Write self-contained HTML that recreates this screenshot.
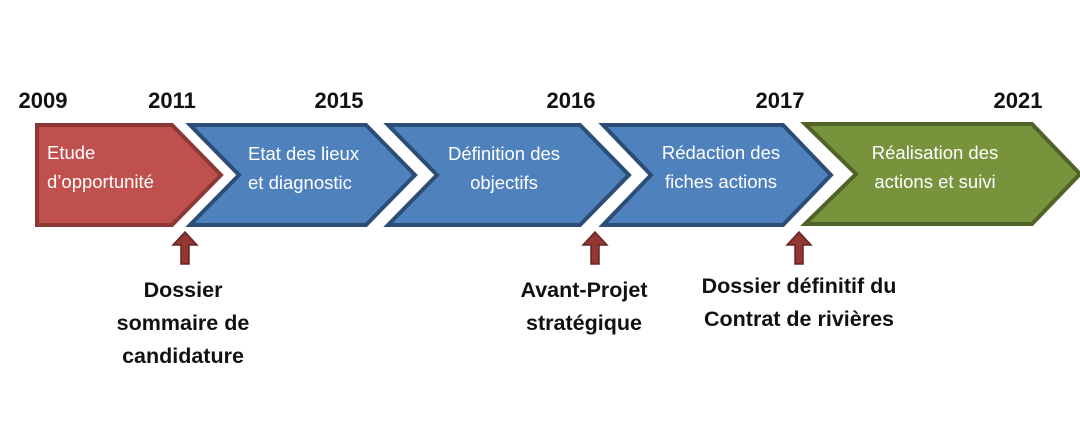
<!DOCTYPE html>
<html><head><meta charset="utf-8"><style>
html,body{margin:0;padding:0;background:#fff;width:1080px;height:421px;overflow:hidden}
svg text{font-family:"Liberation Sans",sans-serif}
</style></head><body>
<svg width="1080" height="421" viewBox="0 0 1080 421" xmlns="http://www.w3.org/2000/svg">
<g font-weight="bold" font-size="22" fill="#111">
<text x="43" y="108" text-anchor="middle">2009</text>
<text x="172" y="108" text-anchor="middle">2011</text>
<text x="339" y="108" text-anchor="middle">2015</text>
<text x="571" y="108" text-anchor="middle">2016</text>
<text x="780" y="108" text-anchor="middle">2017</text>
<text x="1018" y="108" text-anchor="middle">2021</text>
</g>
<g stroke-width="4" stroke-linejoin="miter">
<polygon points="37,125 172,125 221,175 172,225 37,225" fill="#c0504d" stroke="#8c3836"/>
<polygon points="190,125 366,125 415,175 366,225 190,225 239,175" fill="#4f81bd" stroke="#2c4d75"/>
<polygon points="388,125 580,125 629,175 580,225 388,225 437,175" fill="#4f81bd" stroke="#2c4d75"/>
<polygon points="603,125 783,125 831,175 783,225 603,225 651,175" fill="#4f81bd" stroke="#2c4d75"/>
<polygon points="805,124 1032,124 1080,174 1032,224 805,224 856,174" fill="#77933c" stroke="#4f6228"/>
</g>
<g fill="#fff" font-size="18.5">
<text x="47" y="159">Etude</text>
<text x="47" y="188">d’opportunité</text>
<text x="248" y="160">Etat des lieux</text>
<text x="248" y="189">et diagnostic</text>
<text x="504" y="160" text-anchor="middle">Définition des</text>
<text x="504" y="189" text-anchor="middle">objectifs</text>
<text x="721" y="159" text-anchor="middle">Rédaction des</text>
<text x="721" y="188" text-anchor="middle">fiches actions</text>
<text x="935" y="159" text-anchor="middle">Réalisation des</text>
<text x="935" y="188" text-anchor="middle">actions et suivi</text>
</g>
<g fill="#943634" stroke="#632523" stroke-width="1.5">
<polygon points="185,232 197,245 189,245 189,264 181,264 181,245 173,245"/>
<polygon points="595,232 607,245 599,245 599,264 591,264 591,245 583,245"/>
<polygon points="799,232 811,245 803,245 803,264 795,264 795,245 787,245"/>
</g>
<g font-weight="bold" font-size="21.5" fill="#111" text-anchor="middle">
<text x="183" y="297">Dossier</text>
<text x="183" y="330">sommaire de</text>
<text x="183" y="363">candidature</text>
<text x="584" y="297">Avant-Projet</text>
<text x="584" y="330">stratégique</text>
<text x="799" y="293">Dossier définitif du</text>
<text x="799" y="326">Contrat de rivières</text>
</g>
</svg>
</body></html>
